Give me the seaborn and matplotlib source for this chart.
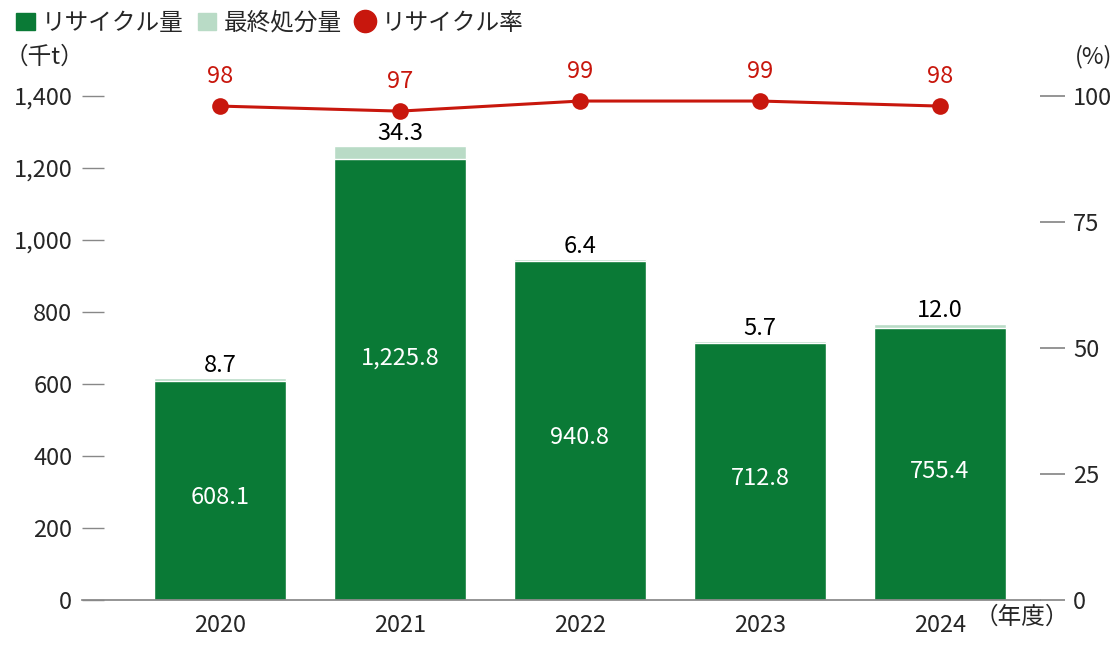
import matplotlib
matplotlib.use("Agg")
import matplotlib.pyplot as plt
import seaborn as sns
import pandas as pd
from matplotlib.lines import Line2D
from matplotlib.patches import Patch

years = ["2020", "2021", "2022", "2023", "2024"]
recycled = [608.1, 1225.8, 940.8, 712.8, 755.4]
disposal = [8.7, 34.3, 6.4, 5.7, 12.0]
rate = [98, 97, 99, 99, 98]
recycled_labels = ["608.1", "1,225.8", "940.8", "712.8", "755.4"]
disposal_labels = ["8.7", "34.3", "6.4", "5.7", "12.0"]

sns.set_theme(style="white")
plt.rcParams['font.family'] = ['Noto Sans CJK JP', 'DejaVu Sans']
FS = 17
DG = "#0a7a36"; LG = "#b9dbc6"; RED = "#c8170d"; GR = "#888888"

fig = plt.figure(figsize=(11.2, 6.5), dpi=100)
ax = fig.add_axes([82/1120, 1-600/650, (1040-82)/1120, 504/650])
df = pd.DataFrame({"year": years, "rec": recycled, "tot": [a+b for a, b in zip(recycled, disposal)]})
sns.barplot(data=df, x="year", y="tot", color=LG, width=0.73, ax=ax, saturation=1)
sns.barplot(data=df, x="year", y="rec", color=DG, width=0.73, ax=ax, saturation=1)
ax.set_xlim(-0.767, 4.556)
ax.set_ylim(0, 1400)
ax.set_xlabel(""); ax.set_ylabel("")
for s in ["top", "left", "right"]:
    ax.spines[s].set_visible(False)
ax.spines["bottom"].set_color(GR)
ax.set_yticks(range(0, 1401, 200))
ax.set_yticklabels(["0", "200", "400", "600", "800", "1,000", "1,200", "1,400"])
ax.tick_params(axis="y", direction="in", length=16, color=GR, width=1, labelsize=FS, pad=7)
ax.tick_params(axis="x", length=0, labelsize=FS, pad=10)
for i in range(5):
    ax.text(i, recycled[i]/2 + (60 if i == 1 else -20), recycled_labels[i], ha="center", va="center", color="white", fontsize=FS)
    ax.text(i, recycled[i]+disposal[i]+4, disposal_labels[i], ha="center", va="bottom", fontsize=FS, color="black")
ax.text(4.19, -48, "（年度）", ha="left", va="center", fontsize=FS)

ax2 = ax.twinx()
ax2.set_ylim(0, 100)
sns.lineplot(x=list(range(5)), y=rate, ax=ax2, color=RED, marker="o", markersize=12, markeredgewidth=0, linewidth=2.2, clip_on=False)
for i, r in enumerate(rate):
    ax2.text(i, r+3.5, str(r), ha="center", va="bottom", color=RED, fontsize=FS)
for s in ["top", "left", "right", "bottom"]:
    ax2.spines[s].set_visible(False)
ax2.set_yticks([0, 25, 50, 75, 100])
ax2.tick_params(axis="y", direction="out", length=18, color=GR, labelsize=FS, pad=6)
ax2.grid(False); ax.grid(False)

fig.text(5/1120, 1-57/650, "（千t）", fontsize=FS, va="center", ha="left")
fig.text(1112/1120, 1-57/650, "(%)", fontsize=FS, va="center", ha="right")

handles = [Patch(color=DG), Patch(color=LG),
           Line2D([], [], marker="o", color=RED, linestyle="", markersize=16)]
fig.legend(handles, ["リサイクル量", "最終処分量", "リサイクル率"], loc="upper left",
           bbox_to_anchor=(-0.005, 1.015), ncol=3, frameon=False, fontsize=FS,
           handlelength=0.8, handletextpad=0.3, columnspacing=0.6)
fig.savefig("out.png", dpi=100)
